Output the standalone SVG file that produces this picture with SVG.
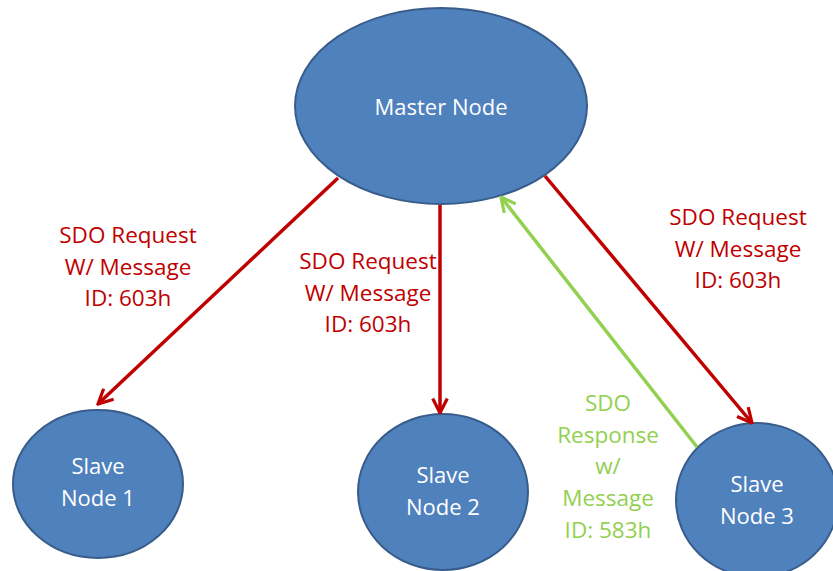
<svg xmlns="http://www.w3.org/2000/svg" width="833" height="571" viewBox="0 0 833 571">
  <style>
    .node { fill: #4F81BD; stroke: #385D8A; stroke-width: 2; }
    .ntext { fill: #FFFFFF; font-family: "Open Sans", "Liberation Sans", sans-serif; font-size: 22px; text-anchor: middle; }
    .req { stroke: #C00000; stroke-width: 3.5; fill: none; }
    .rsp { stroke: #92D050; stroke-width: 3.5; fill: none; }
    .lbl { font-family: "Open Sans", "Liberation Sans", sans-serif; font-size: 22.5px; text-anchor: middle; }
    .lred { fill: #C00000; }
    .lgreen { fill: #92D050; }
  </style>
  <defs>
    <marker id="arrRed" viewBox="0 0 12 12" refX="11" refY="6" markerWidth="5" markerHeight="5" markerUnits="strokeWidth" orient="auto">
      <path d="M1,1 L11,6 L1,11" fill="none" stroke="#C00000" stroke-width="2.2"/>
    </marker>
    <marker id="arrGreen" viewBox="0 0 12 12" refX="11" refY="6" markerWidth="5" markerHeight="5" markerUnits="strokeWidth" orient="auto">
      <path d="M1,1 L11,6 L1,11" fill="none" stroke="#92D050" stroke-width="2.2"/>
    </marker>
  </defs>

  <!-- nodes -->
  <g id="master">
    <ellipse class="node" cx="441" cy="106" rx="146" ry="98"/>
    <text class="ntext" x="441" y="115">Master Node</text>
  </g>
  <g id="slave1">
    <ellipse class="node" cx="98" cy="484" rx="85" ry="74"/>
    <text class="ntext" x="98" y="474">Slave</text>
    <text class="ntext" x="98" y="506">Node 1</text>
  </g>
  <g id="slave2">
    <ellipse class="node" cx="443" cy="492" rx="85" ry="78"/>
    <text class="ntext" x="443" y="483">Slave</text>
    <text class="ntext" x="443" y="515">Node 2</text>
  </g>
  <g id="slave3">
    <ellipse class="node" cx="757" cy="500" rx="81" ry="77"/>
    <text class="ntext" x="757" y="492">Slave</text>
    <text class="ntext" x="757" y="524">Node 3</text>
  </g>

  <!-- connectors -->
  <g id="connectors">
    <line class="req" x1="338" y1="178" x2="98" y2="404" marker-end="url(#arrRed)"/>
    <line class="req" x1="440" y1="205" x2="440" y2="413" marker-end="url(#arrRed)"/>
    <line class="req" x1="545" y1="176" x2="752" y2="423" marker-end="url(#arrRed)"/>
    <line class="rsp" x1="697" y1="447" x2="501" y2="197" marker-end="url(#arrGreen)"/>
  </g>

  <!-- connector labels -->
  <g id="labels">
    <text class="lbl lred" x="128" y="243">SDO Request</text>
    <text class="lbl lred" x="128" y="275">W/ Message</text>
    <text class="lbl lred" x="128" y="306">ID: 603h</text>

    <text class="lbl lred" x="368" y="269">SDO Request</text>
    <text class="lbl lred" x="368" y="301">W/ Message</text>
    <text class="lbl lred" x="368" y="332">ID: 603h</text>

    <text class="lbl lred" x="738" y="225">SDO Request</text>
    <text class="lbl lred" x="738" y="257">W/ Message</text>
    <text class="lbl lred" x="738" y="288">ID: 603h</text>

    <text class="lbl lgreen" x="608" y="411">SDO</text>
    <text class="lbl lgreen" x="608" y="443">Response</text>
    <text class="lbl lgreen" x="608" y="474">w/</text>
    <text class="lbl lgreen" x="608" y="506">Message</text>
    <text class="lbl lgreen" x="608" y="538">ID: 583h</text>
  </g>
</svg>
